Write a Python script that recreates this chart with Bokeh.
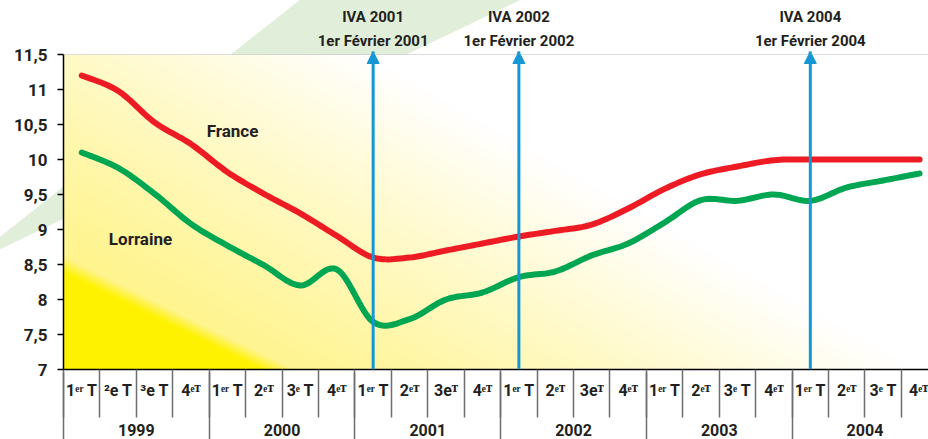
import numpy as np
from bokeh.plotting import figure
from bokeh.models import (Range1d, LinearAxis, FixedTicker, Label, Arrow, NormalHead,
                          Span, GridBox, Div)
from bokeh.embed import file_html
from bokeh.resources import INLINE

# ---------------- data ----------------
years = ["1999", "2000", "2001", "2002", "2003", "2004"]
quarter_labels = [
    "1ᵉʳ T", "²e T", "³e T", "4ᵉᵀ",
    "1ᵉʳ T", "2ᵉᵀ", "3ᵉ T", "4ᵉᵀ",
    "1ᵉʳ T", "2ᵉᵀ", "3eᵀ", "4ᵉᵀ",
    "1ᵉʳ T", "2ᵉᵀ", "3eᵀ", "4ᵉᵀ",
    "1ᵉʳ T", "2ᵉᵀ", "3ᵉ T", "4ᵉᵀ",
    "1ᵉʳ T", "2ᵉᵀ", "3ᵉ T", "4ᵉᵀ",
]
france = [11.2, 10.98, 10.53, 10.22, 9.82, 9.51, 9.23, 8.91,
          8.6, 8.6, 8.7, 8.8, 8.9, 8.98, 9.07, 9.3,
          9.58, 9.79, 9.9, 9.99, 10.0, 10.0, 10.0, 10.0]
lorraine = [10.1, 9.88, 9.51, 9.08, 8.77, 8.49, 8.2, 8.43,
            7.68, 7.72, 8.0, 8.1, 8.32, 8.4, 8.63, 8.8,
            9.1, 9.42, 9.41, 9.5, 9.41, 9.6, 9.7, 9.8]
y_ticks = [7, 7.5, 8, 8.5, 9, 9.5, 10, 10.5, 11, 11.5]
y_tick_labels = ["7", "7,5", "8", "8,5", "9", "9,5", "10", "10,5", "11", "11,5"]
iva_quarter = [8, 12, 20]  # quarter index of each IVA (1er trimestre)
iva_labels = ["IVA 2001\n1er Février 2001", "IVA 2002\n1er Février 2002",
              "IVA 2004\n1er Février 2004"]

# ---------------- geometry ----------------
W, H = 928, 439
FRAME_L, FRAME_T, FRAME_B = 63, 54, 70
FRAME_W, FRAME_H = W - FRAME_L, H - FRAME_T - FRAME_B   # 865 x 315
QW = 36.43                                               # px per quarter
X_END = FRAME_W / QW
Y0, Y1 = 7.0, 11.5
PY = FRAME_H / (Y1 - Y0)                                 # px per unit


def page_to_data(px, py):
    return (px - FRAME_L) / QW, Y1 - (py - FRAME_T) / PY


def smooth(xs, ys, n=12):
    P = np.column_stack([xs, ys]).astype(float)
    P = np.vstack([P[0], P, P[-1]])
    out = []
    t = np.linspace(0, 1, n, endpoint=False)[:, None]
    for i in range(1, len(P) - 2):
        p0, p1, p2, p3 = P[i - 1], P[i], P[i + 1], P[i + 2]
        pts = 0.5 * ((2 * p1) + (-p0 + p2) * t + (2 * p0 - 5 * p1 + 4 * p2 - p3) * t ** 2
                     + (-p0 + 3 * p1 - 3 * p2 + p3) * t ** 3)
        out.append(pts)
    out.append(P[-2][None, :])
    a = np.vstack(out)
    return a[:, 0], a[:, 1]


FONT = "Roboto"
TXT = "#231f20"
BLUE = "#1597d5"
WEDGE = "#e1efda"

# ---------------- main figure ----------------
p = figure(width=W, height=H, x_range=Range1d(0, X_END), y_range=Range1d(Y0, Y1),
           x_axis_type=None, output_backend="svg", toolbar_location=None,
           min_border_left=FRAME_L, min_border_right=0, min_border_top=FRAME_T,
           min_border_bottom=FRAME_B)
p.outline_line_color = None
p.grid.visible = False
p.background_fill_color = None
p.border_fill_color = None

# yellow gradient in the plot area
nx, ny = FRAME_W, FRAME_H
Xp, Yp = np.meshgrid(np.arange(nx) + 0.5, np.arange(ny) + 0.5)
d_strong = 0.49 * Xp + Yp
d_white = 0.57 * Xp + Yp
u = np.clip((d_white - 110.0) / 375.0, 0, 1) ** 1.1
S = np.array([255, 242, 0], float)
Pc = np.array([255, 244, 140], float)
Wc = np.array([255, 255, 255], float)
pale = Pc + (Wc - Pc) * u[..., None]
s = np.clip((d_strong - 97.0) / 16.0, 0, 1)
col = S + (pale - S) * s[..., None]
img = np.empty((ny, nx), dtype=np.uint32)
view = img.view(dtype=np.uint8).reshape((ny, nx, 4))
view[..., 0:3] = np.clip(col, 0, 255).astype(np.uint8)
view[..., 3] = 255
p.image_rgba(image=[img], x=0, y=Y0, dw=X_END, dh=Y1 - Y0)

p.add_layout(Span(location=Y1, dimension="width", line_color="#bcbec0", line_width=1))

qx = [i + 0.5 for i in range(len(france))]
fx, fy = smooth(qx, france)
lx, ly = smooth(qx, lorraine)
p.line(fx, fy, line_color="#ed1c24", line_width=6, line_cap="round", line_join="round")
p.line(lx, ly, line_color="#00a651", line_width=6, line_cap="round", line_join="round")

tip_y = Y1 + 3.0 / PY
for qi in iva_quarter:
    xq = qi + 0.5
    p.add_layout(Arrow(x_start=xq, y_start=Y0, x_end=xq, y_end=tip_y,
                       line_color=BLUE, line_width=3,
                       end=NormalHead(size=12, fill_color=BLUE, line_color=BLUE)))

fxl, fyl = page_to_data(232, 130)
lxl, lyl = page_to_data(140, 238)
for txt, xx, yy in (("France", fxl, fyl), ("Lorraine", lxl, lyl)):
    p.add_layout(Label(x=xx, y=yy, text=txt, text_align="center", text_baseline="middle",
                       text_font=FONT, text_font_style="bold", text_font_size="17px",
                       text_color=TXT))

# y axis
ya = p.yaxis[0]
ya.ticker = FixedTicker(ticks=y_ticks, minor_ticks=[])
ya.major_label_overrides = {float(t): l for t, l in zip(y_ticks, y_tick_labels)}
ya.major_tick_out = 6
ya.major_tick_in = 0
ya.major_tick_line_color = "black"
ya.major_tick_line_width = 1.5
ya.axis_line_color = "black"
ya.axis_line_width = 1.5
ya.major_label_standoff = 10
ya.major_label_text_font = FONT
ya.major_label_text_font_style = "bold"
ya.major_label_text_font_size = "17px"
ya.major_label_text_color = TXT

# top axis: IVA events
iva_x = [q + 0.5 for q in iva_quarter]
axT = LinearAxis(ticker=FixedTicker(ticks=iva_x, minor_ticks=[]),
                 major_label_overrides={c: l for c, l in zip(iva_x, iva_labels)},
                 major_tick_out=0, major_tick_in=0, minor_tick_out=0, minor_tick_in=0,
                 axis_line_color=None, major_label_standoff=5,
                 major_label_text_font=FONT, major_label_text_font_style="bold",
                 major_label_text_font_size="15px", major_label_text_color=TXT,
                 major_label_text_line_height=1.3)
p.add_layout(axT, "above")

# x axis: quarters
nq = len(quarter_labels)
q_centers = [i + 0.5 for i in range(nq)]
q_bounds = [float(i) for i in range(nq)]
axA = LinearAxis(ticker=FixedTicker(ticks=q_centers, minor_ticks=q_bounds),
                 major_label_overrides={c: l for c, l in zip(q_centers, quarter_labels)},
                 major_tick_out=0, major_tick_in=0,
                 minor_tick_out=48, minor_tick_in=0,
                 minor_tick_line_color="#6d6e71", minor_tick_line_width=1.5,
                 axis_line_color="black", axis_line_width=1.5,
                 major_label_standoff=-37,
                 major_label_text_font=FONT, major_label_text_font_style="bold",
                 major_label_text_font_size="16px", major_label_text_color=TXT)
p.add_layout(axA, "below")

# x axis: years
y_centers = [4 * i + 2.0 for i in range(len(years))]
y_bounds = [4.0 * i for i in range(len(years))]
axB = LinearAxis(ticker=FixedTicker(ticks=y_centers, minor_ticks=y_bounds),
                 major_label_overrides={c: l for c, l in zip(y_centers, years)},
                 major_tick_out=0, major_tick_in=0,
                 minor_tick_out=40, minor_tick_in=30,
                 minor_tick_line_color="#6d6e71", minor_tick_line_width=1.5,
                 axis_line_color=None,
                 major_label_standoff=-19,
                 major_label_text_font=FONT, major_label_text_font_style="bold",
                 major_label_text_font_size="16px", major_label_text_color=TXT)
p.add_layout(axB, "below")

# ---------------- decoration layer underneath (green wedge, arrow tips) ----------------
def pts_str(pts):
    return " ".join(f"{a:.1f},{b:.1f}" for a, b in pts)


wedge = [(-41.0, 269.0), (325.0, -20.0), (562.0, -20.0)]   # page px
svg = [f'<svg xmlns="http://www.w3.org/2000/svg" width="{W}" height="{H}" '
       f'style="display:block;position:absolute;left:0;top:0">',
       f'<polygon points="{pts_str(wedge)}" fill="{WEDGE}"/>']
for xq in iva_x:
    px = FRAME_L + xq * QW
    tip = FRAME_T - 3
    svg.append(f'<polygon points="{pts_str([(px - 6, tip + 12), (px, tip), (px + 6, tip + 12)])}" '
               f'fill="{BLUE}"/>')
svg.append('</svg>')
deco = Div(text="".join(svg), width=W, height=H,
           styles={"margin": "0", "padding": "0", "position": "relative"})

layout = GridBox(children=[(deco, 0, 0), (p, 0, 0)])
open("out.html", "w").write(file_html(layout, INLINE))
